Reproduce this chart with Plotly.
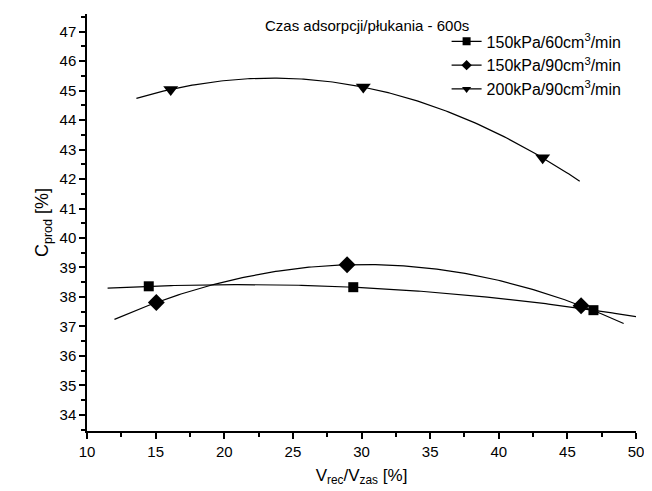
import numpy as np
import plotly.graph_objects as go

# ---- data ----
x_sq = [14.5, 29.4, 46.9]
y_sq = [38.36, 38.33, 37.55]
x_di = [15.05, 28.95, 46.0]
y_di = [37.81, 39.09, 37.70]
x_tr = [16.1, 30.13, 43.2]
y_tr = [45.04, 45.12, 42.72]

fit_range_sq = [11.5, 50.0]
fit_range_di = [12.0, 49.1]
fit_range_tr = [13.6, 45.9]

series_names = ["150kPa/60cm<sup>3</sup>/min",
                "150kPa/90cm<sup>3</sup>/min",
                "200kPa/90cm<sup>3</sup>/min"]
symbols = ["square", "diamond", "triangle-down"]
marker_sizes = [10, 13, 13]

title_text = "Czas adsorpcji/płukania - 600s"
x_ticks = [10, 15, 20, 25, 30, 35, 40, 45, 50]
y_ticks = list(range(34, 48))

FONT = "Liberation Sans, Arial, sans-serif"

fig = go.Figure()

series = [(x_sq, y_sq, fit_range_sq), (x_di, y_di, fit_range_di), (x_tr, y_tr, fit_range_tr)]
for i, (xs, ys, rng) in enumerate(series):
    coef = np.polyfit(xs, ys, 2)
    xf = np.linspace(rng[0], rng[1], 200)
    yf = np.polyval(coef, xf)
    fig.add_trace(go.Scatter(x=xf, y=yf, mode="lines",
                             line=dict(color="black", width=1.2),
                             showlegend=False, hoverinfo="skip"))
    fig.add_trace(go.Scatter(x=xs, y=ys, mode="markers",
                             marker=dict(symbol=symbols[i], size=marker_sizes[i], color="black"),
                             showlegend=False))
    # legend entry (line + marker)
    fig.add_trace(go.Scatter(x=[None], y=[None], mode="lines+markers",
                             name=series_names[i],
                             line=dict(color="black", width=1.2),
                             marker=dict(symbol=symbols[i], size=8, color="black")))

fig.add_annotation(text=title_text, xref="paper", yref="paper",
                   x=0.70, y=0.972, xanchor="right", yanchor="middle",
                   showarrow=False, font=dict(size=15, color="black", family=FONT))

axis_common = dict(showline=True, linecolor="black", linewidth=1.5,
                   ticks="outside", tickcolor="black", tickwidth=1.5, ticklen=6,
                   showgrid=False, zeroline=False, mirror=False,
                   tickfont=dict(size=15, color="black", family=FONT))

fig.update_xaxes(range=[10, 50], tickvals=x_ticks,
                 minor=dict(ticks="outside", dtick=2.5, ticklen=4, tickcolor="black", tickwidth=1.5),
                 title=dict(text="V<sub>rec</sub>/V<sub>zas</sub> [%]",
                            font=dict(size=17, color="black", family=FONT), standoff=10),
                 **axis_common)
fig.update_yaxes(range=[33.45, 47.6], tickvals=y_ticks,
                 minor=dict(ticks="outside", dtick=0.5, ticklen=4, tickcolor="black", tickwidth=1.5),
                 title=dict(text="C<sub>prod</sub> [%]",
                            font=dict(size=18, color="black", family=FONT), standoff=6),
                 **axis_common)

fig.update_layout(width=652, height=491,
                  margin=dict(l=79, r=24, t=6, b=68),
                  plot_bgcolor="white", paper_bgcolor="white",
                  font=dict(family=FONT, color="black"),
                  legend=dict(x=0.655, y=0.975, xanchor="left", yanchor="top",
                              bgcolor="rgba(0,0,0,0)", borderwidth=0,
                              font=dict(size=16, color="black", family=FONT),
                              itemwidth=30, tracegroupgap=0))

fig.write_html("out.html")
